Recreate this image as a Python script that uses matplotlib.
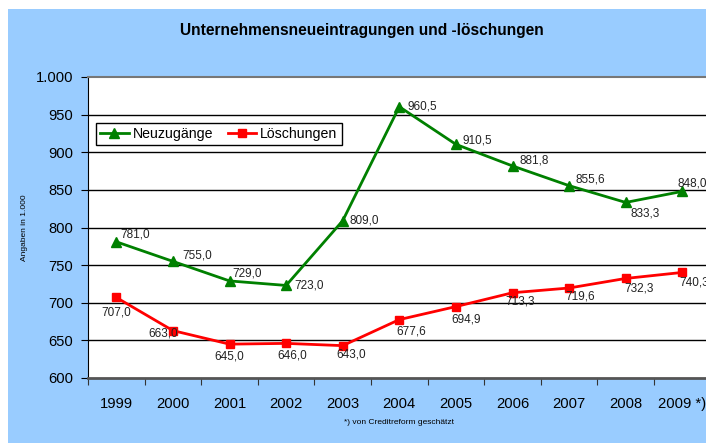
import matplotlib.pyplot as plt
from matplotlib.patches import Rectangle

plt.rcParams['font.family'] = ['Liberation Sans', 'DejaVu Sans']

years = ['1999', '2000', '2001', '2002', '2003', '2004', '2005', '2006', '2007', '2008', '2009 *)']
neu = [781.0, 755.0, 729.0, 723.0, 809.0, 960.5, 910.5, 881.8, 855.6, 833.3, 848.0]
loe = [707.0, 663.0, 645.0, 646.0, 643.0, 677.6, 694.9, 713.3, 719.6, 732.3, 740.3]
yticks = [600, 650, 700, 750, 800, 850, 900, 950, 1000]

# label offsets in pixels (dx, dy, ha)
neu_off = [(4, 7, 'left'), (9, 6, 'left'), (3, 7, 'left'), (8, 0, 'left'), (7, 0, 'left'),
           (8, 0, 'left'), (7, 4, 'left'), (7, 5, 'left'), (6, 6, 'left'), (5, -11, 'left'),
           (-5, 8, 'left')]
loe_off = [(0, -15, 'center'), (5, -3, 'right'), (0, -12, 'center'), (6, -12, 'center'),
           (8, -9, 'center'), (12, -12, 'center'), (10, -13, 'center'), (8, -9, 'center'),
           (11, -8, 'center'), (13, -10, 'center'), (-3, -10, 'left')]

W, H = 706, 443
fig = plt.figure(figsize=(W / 100, H / 100), dpi=100)
fig.patches.append(Rectangle((8 / W, 0), 1, 1 - 9 / H, transform=fig.transFigure,
                             facecolor='#99CCFF', edgecolor='none', zorder=-10))

ax = fig.add_axes([88 / W, 1 - 378 / H, 622.6 / W, 301 / H])
ax.set_facecolor('white')
x = list(range(len(years)))

for yv in yticks[1:-1]:
    ax.axhline(yv, color='black', lw=1, zorder=1)

ln1, = ax.plot(x, neu, color='#008000', lw=2, marker='^', ms=7, label='Neuzugänge', zorder=3)
ln2, = ax.plot(x, loe, color='#FF0000', lw=2, marker='s', ms=6, label='Löschungen', zorder=3)

def fmt(v):
    return f'{v:.1f}'.replace('.', ',')

for xi, v, (dx, dy, ha) in zip(x, neu, neu_off):
    ax.annotate(fmt(v), (xi, v), xytext=(dx, dy), textcoords='offset pixels',
                ha=ha, va='center', fontsize=8.5, color='#222222', zorder=4,
                annotation_clip=False)
for xi, v, (dx, dy, ha) in zip(x, loe, loe_off):
    ax.annotate(fmt(v), (xi, v), xytext=(dx, dy), textcoords='offset pixels',
                ha=ha, va='center', fontsize=8.5, color='#222222', zorder=4,
                annotation_clip=False)

ax.set_xlim(-0.5, 10.5)
ax.set_ylim(600, 1000)
ax.set_yticks(yticks)
ax.set_yticklabels([f'{v:,}'.replace(',', '.') for v in yticks], fontsize=10.6)
ax.set_xticks([i + 0.5 for i in range(-1, 11)], minor=False)
ax.set_xticklabels([])
ax.set_xticks(x, minor=True)
ax.set_xticklabels(years, minor=True, fontsize=10.6)
ax.tick_params(axis='x', which='minor', length=0, pad=14)
ax.tick_params(axis='x', which='major', length=5, direction='out', color='#333333')
ax.tick_params(axis='y', length=5, direction='out', pad=5.5)

ax.spines['left'].set_color('black')
ax.spines['top'].set_color('#777777')
ax.spines['top'].set_linewidth(1.5)
ax.spines['bottom'].set_color('#555555')
ax.spines['bottom'].set_linewidth(2)
ax.spines['right'].set_visible(False)

leg = ax.legend(handles=[ln1, ln2], loc='lower left', bbox_to_anchor=(96 / W, 1 - 145 / H),
                bbox_transform=fig.transFigure, ncol=2, fontsize=10.2, frameon=True,
                fancybox=False, borderpad=0.3, handlelength=2.0, handletextpad=0.3,
                columnspacing=1.0, borderaxespad=0)
leg.get_frame().set_edgecolor('black')
leg.get_frame().set_linewidth(1)
leg.get_frame().set_alpha(1)

fig.text(362 / W, 1 - 31 / H, 'Unternehmensneueintragungen und -löschungen',
         ha='center', va='center', fontsize=11.2, fontweight='bold')
fig.text(25 / W, 1 - 228 / H, 'Angaben in 1.000', rotation=90, ha='center', va='center',
         fontsize=6)
fig.text(399 / W, 1 - 423 / H, '*) von Creditreform geschätzt', ha='center', va='center',
         fontsize=6)

fig.savefig('out.png', dpi=100)
